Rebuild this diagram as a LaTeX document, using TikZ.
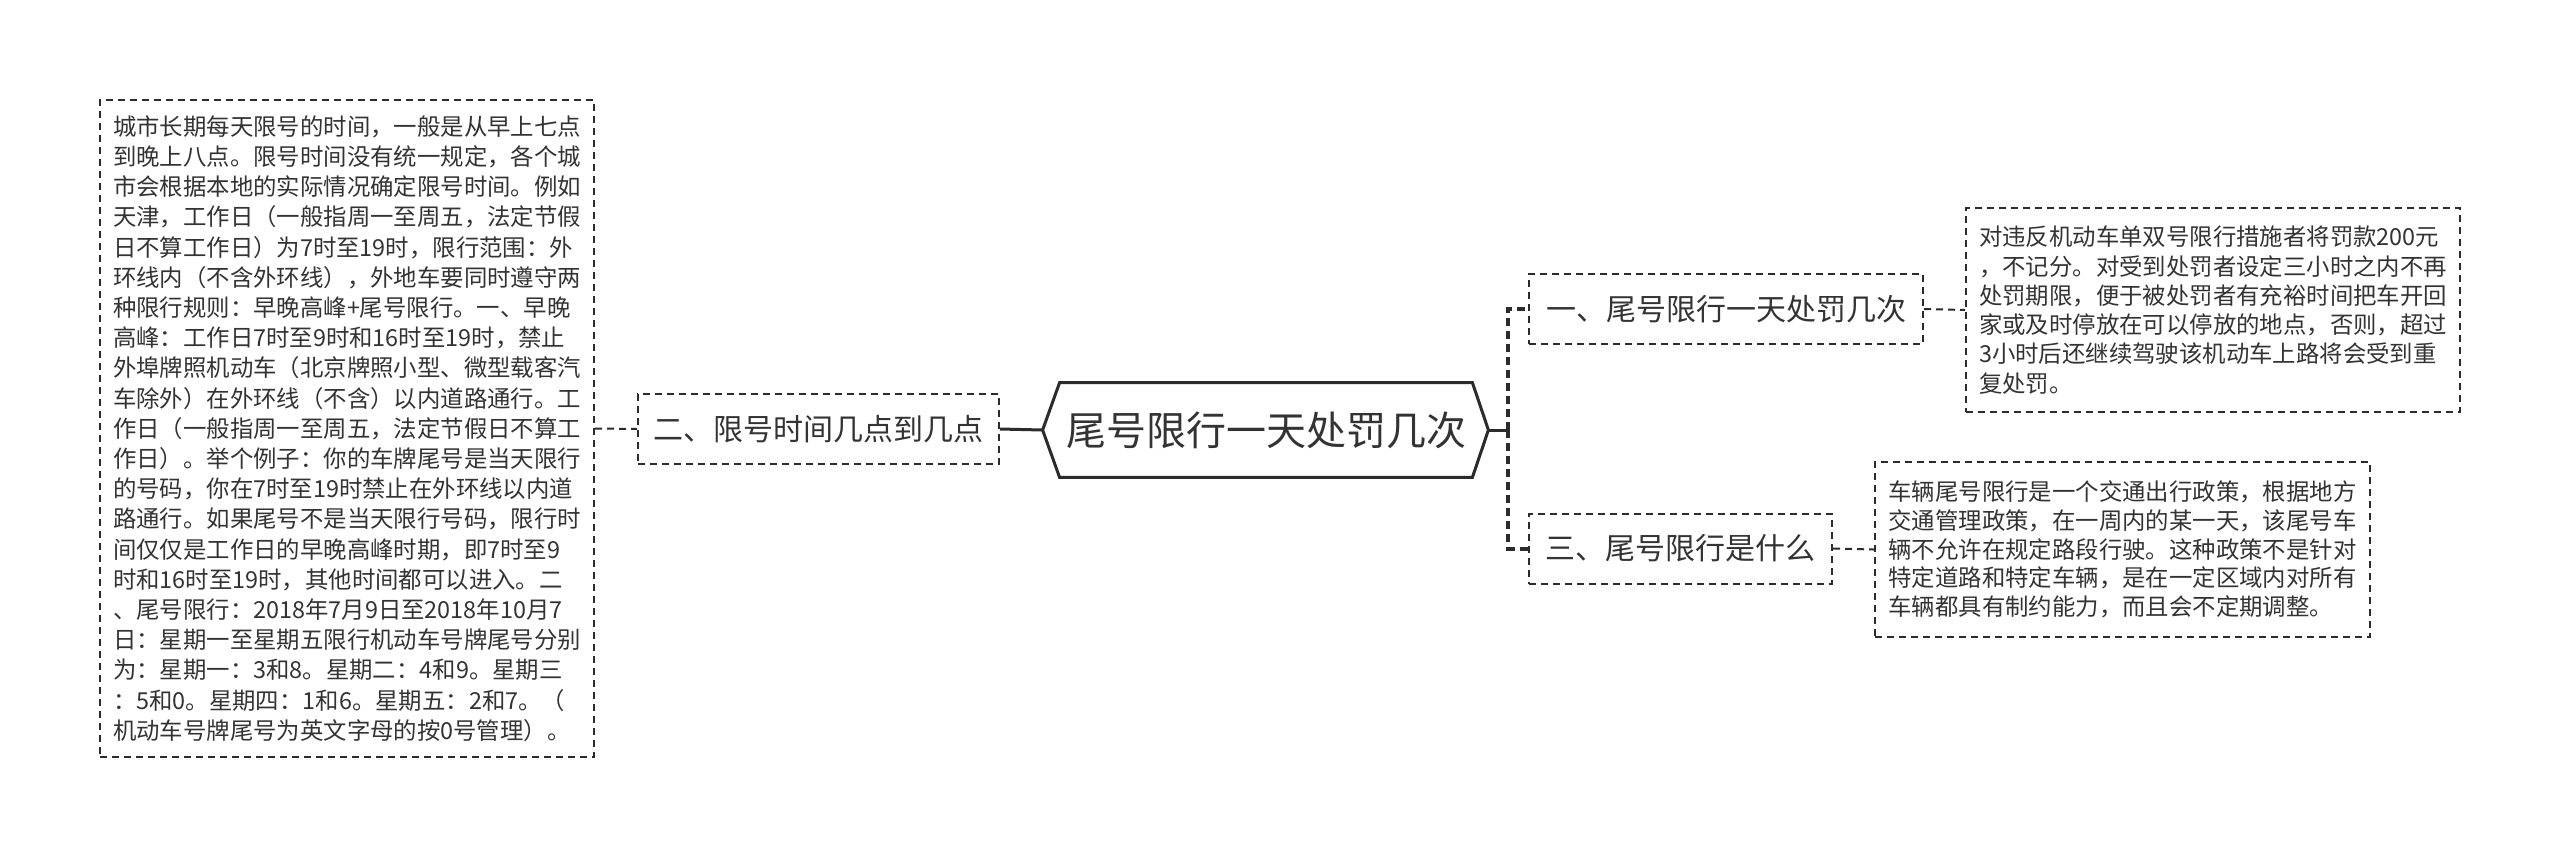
\documentclass[tikz,border=0pt]{standalone}
\usepackage{fontspec}
\usepackage{tikz}
\usetikzlibrary{positioning,calc}
\newfontfamily\cjk{Noto Sans CJK SC}
\definecolor{ink}{HTML}{2B2B2B}
\definecolor{txt}{HTML}{333333}

\begin{document}
\begin{tikzpicture}[x=0.5pt,y=-0.5pt,
  note/.style={draw=ink,line width=1pt,dash pattern=on 3.5pt off 2.5pt,text=txt,align=left,inner sep=0pt},
  topic/.style={draw=ink,line width=1pt,dash pattern=on 3.5pt off 2.5pt,text=txt,inner sep=0pt,minimum height=35pt,font=\cjk\fontsize{15pt}{18pt}\selectfont},
  root/.style={text=txt,inner sep=0pt,minimum width=206pt,minimum height=47pt,font=\cjk\fontsize{20pt}{24pt}\selectfont},
  link/.style={ink,line width=1pt,dash pattern=on 3.5pt off 2.5pt},
  trunk/.style={ink,line width=2pt,dash pattern=on 4pt off 2.5pt},
  solidlink/.style={ink,line width=1.5pt}]
  \fill[white] (0,0) rectangle (2560,859);
  \useasboundingbox (0,0) rectangle (2560,859);
  % centre topic
  \node[root] (root) at (1266,430) {尾号限行一天处罚几次};
  \coordinate (rootL) at ([xshift=-8.5pt]root.west);
  \coordinate (rootR) at ([xshift=8pt]root.east);
  \draw[ink,line width=1.5pt] (root.north west) -- (root.north east) -- (rootR) -- (root.south east) -- (root.south west) -- (rootL) -- cycle;
  % left branch
  \node[topic,minimum width=180.5pt] (n2) at (818.5,429) {二、限号时间几点到几点};
  \node[note,minimum width=247pt,minimum height=328.5pt,font=\cjk\fontsize{11.7pt}{15.1pt}\selectfont] (detail2) at (347,428.5) {城市长期每天限号的时间，一般是从早上七点\\
到晚上八点。限号时间没有统一规定，各个城\\
市会根据本地的实际情况确定限号时间。例如\\
天津，工作日（一般指周一至周五，法定节假\\
日不算工作日）为7时至19时，限行范围：外\\
环线内（不含外环线），外地车要同时遵守两\\
种限行规则：早晚高峰+尾号限行。一、早晚\\
高峰：工作日7时至9时和16时至19时，禁止\\
外埠牌照机动车（北京牌照小型、微型载客汽\\
车除外）在外环线（不含）以内道路通行。工\\
作日（一般指周一至周五，法定节假日不算工\\
作日）。举个例子：你的车牌尾号是当天限行\\
的号码，你在7时至19时禁止在外环线以内道\\
路通行。如果尾号不是当天限行号码，限行时\\
间仅仅是工作日的早晚高峰时期，即7时至9\\
时和16时至19时，其他时间都可以进入。二\\
、尾号限行：2018年7月9日至2018年10月7\\
日：星期一至星期五限行机动车号牌尾号分别\\
为：星期一：3和8。星期二：4和9。星期三\\
：5和0。星期四：1和6。星期五：2和7。（\\
机动车号牌尾号为英文字母的按0号管理）。};
  % right branches
  \coordinate (fork) at (1508,430);
  \node[topic,minimum width=197pt] (n1) at (1726,309) {一、尾号限行一天处罚几次};
  \node[topic,minimum width=151.5pt] (n3) at (1680.5,548.5) {三、尾号限行是什么};
  \node[note,minimum width=247pt,minimum height=102pt,font=\cjk\fontsize{11.7pt}{14.65pt}\selectfont] (detail1) at (2213,310) {对违反机动车单双号限行措施者将罚款200元\\
，不记分。对受到处罚者设定三小时之内不再\\
处罚期限，便于被处罚者有充裕时间把车开回\\
家或及时停放在可以停放的地点，否则，超过\\
3小时后还继续驾驶该机动车上路将会受到重\\
复处罚。};
  \node[note,minimum width=247.5pt,minimum height=87.5pt,font=\cjk\fontsize{11.7pt}{14.35pt}\selectfont] (detail3) at (2122.5,549.5) {车辆尾号限行是一个交通出行政策，根据地方\\
交通管理政策，在一周内的某一天，该尾号车\\
辆不允许在规定路段行驶。这种政策不是针对\\
特定道路和特定车辆，是在一定区域内对所有\\
车辆都具有制约能力，而且会不定期调整。};
  % connectors
  \draw[link] (detail2.east) -- (n2.west);
  \draw[solidlink] (n2.east) -- (rootL);
  \draw[solidlink] (rootR) -- (fork);
  \draw[trunk] (fork) |- (n1.west);
  \draw[trunk] (fork) |- (n3.west);
  \draw[link] (n1.east) -- (detail1.west);
  \draw[link] (n3.east) -- (detail3.west);
\end{tikzpicture}
\end{document}
